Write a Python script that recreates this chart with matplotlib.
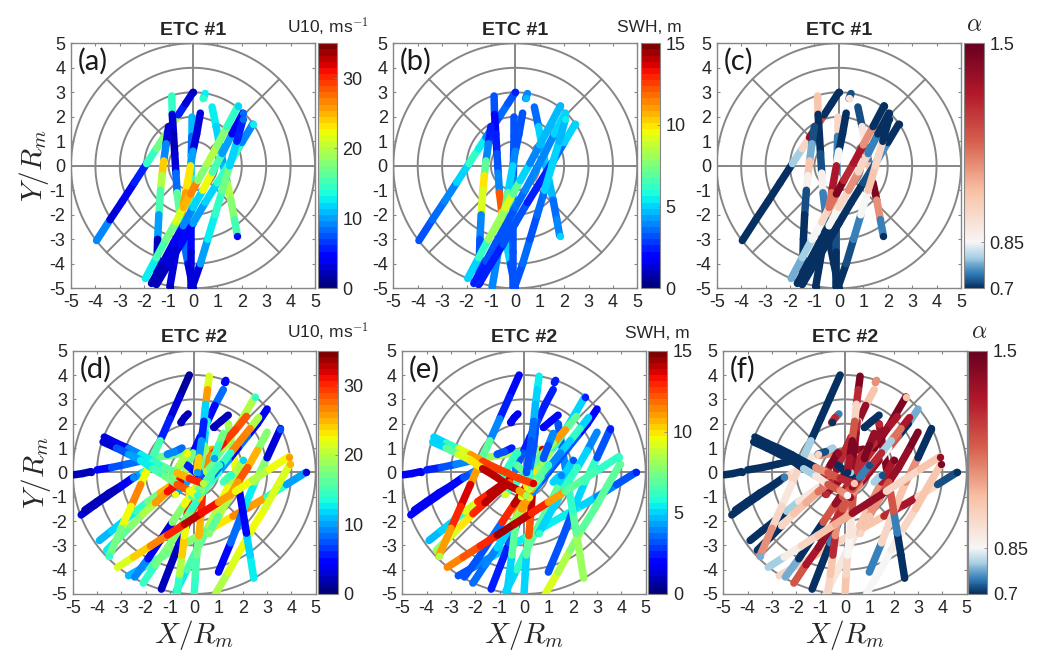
import numpy as np
import matplotlib
matplotlib.use('Agg')
import matplotlib.pyplot as plt
from matplotlib.collections import LineCollection
from matplotlib.colors import LinearSegmentedColormap, Normalize
from matplotlib.cm import ScalarMappable

plt.rcParams['font.family'] = ['Liberation Sans', 'DejaVu Sans']
plt.rcParams['mathtext.fontset'] = 'cm'
plt.rcParams['axes.unicode_minus'] = False

W, H = 1040, 653
GRAY = '#868686'
TXT = '#262626'

# ETC #1 tracks, values read along each track
etc1_x = [
    [-3.95, -3.4, -2.9, -2.4, -1.9, -1.5, -1.2, -0.9, -0.6, -0.3, 0],
    [-0.87, -0.85, -0.8, -0.75, -0.7, -0.65, -0.55, -0.4, -0.2, 0],
    [-1.0, -1.1, -1.2, -1.27, -1.33, -1.4, -1.45, -1.5],
    [-0.05, -0.05, -0.07, -0.08, -0.1, -0.1, -0.1, -0.1],
    [0.3, 0.15, 0, -0.1, -0.3, -0.5, -0.7, -0.95],
    [0.5, 0.42],
    [0.78, 0.95, 1.1, 1.25, 1.4, 1.55, 1.7, 1.82],
    [-1.7, -1.2, -0.8, -0.4, 0, 0.4, 0.8, 1.2, 1.6, 2.05],
    [-1.5, -1.0, -0.5, 0, 0.5, 1, 1.5, 2, 2.45],
    [-0.05, 0.3, 0.6, 0.9, 1.2, 1.5, 1.8, 2.05],
    [-1.95, -1.5, -1.1, -0.7, -0.4, -0.1, 0.2, 0.6, 1.0, 1.4, 1.85],
]
etc1_y = [
    [-3.05, -2.2, -1.45, -0.68, 0.09, 0.7, 1.16, 1.62, 2.08, 2.54, 3.0],
    [2.85, 2.1, 1.3, 0.5, -0.3, -1.1, -1.9, -3.0, -4, -5],
    [1.6, 0.9, 0.2, -0.4, -1, -2, -3, -4.8],
    [2, 1.2, 0.4, -0.5, -1.5, -2.5, -3.5, -5],
    [2.15, 1.3, 0.6, 0, -1.1, -2.2, -3.5, -4.95],
    [2.95, 2.75],
    [2.4, 1.6, 0.8, 0, -0.7, -1.4, -2.2, -2.85],
    [-4.8, -3.9, -3.15, -2.45, -1.7, -1, -0.25, 0.5, 1.3, 2.15],
    [-4.85, -4.0, -3.2, -2.35, -1.5, -0.7, 0.1, 0.95, 1.7],
    [-5, -4, -3, -2, -1, 0, 1, 1.9],
    [-4.6, -3.75, -3, -2.3, -1.7, -1.15, -0.6, 0.1, 0.85, 1.6, 2.45],
]
etc1_u10 = [
    [9, 3, 4, 6, 14, 17, 18, 20, 6, 3, 2],
    [14, 3, 2, 3, 8, 16, 18, 8, 3, 2],
    [3, 9, 24, 20, 15, 10, 2, 1.5],
    [11, 8, 12, 14, 16, 5, 3, 2],
    [3, 3, 10, 23, 26, 14, 3, 2],
    [13, 14],
    [13, 12, 10, 11, 20, 18, 15, 5],
    [2, 3, 4, 9, 12, 22, 15, 10, 4, 8],
    [2, 3, 5, 10, 12, 14, 14, 9, 13],
    [3, 10, 13, 14, 17, 12, 6, 8],
    [13, 15, 17, 21, 25, 27, 18, 20, 18, 14, 12],
]
etc1_swh = [
    [3, 3.5, 4, 5, 6, 5.5, 4, 3, 3.5, 3, 2.5],
    [3, 2, 2.5, 3, 4, 12, 10, 5, 3, 3],
    [2.5, 4, 7, 10, 9, 4, 3, 2.5],
    [3, 3, 3, 4, 5, 3, 3, 3],
    [3, 3, 4, 5, 7, 8, 4, 4],
    [4, 4.5],
    [3.5, 5, 5, 4.5, 4.5, 3.5, 4, 5],
    [2.5, 3, 3, 3, 3.5, 4, 4, 4, 5, 5],
    [2.5, 2.5, 3, 3, 2.5, 2.5, 3.5, 5, 5],
    [3, 3.5, 3, 3.5, 5, 5, 4.5, 5.5],
    [5, 6, 8, 8, 9, 7, 5, 4, 4.5, 4.5, 4.5],
]
etc1_alpha = [
    [0.7, 0.7, 0.7, 0.7, 0.8, 0.95, 1.4, 1.2, 0.7, 0.7, 0.7],
    [1.0, 0.7, 0.7, 0.72, 0.87, 0.75, 0.72, 0.7, 0.7, 0.7],
    [0.72, 0.78, 1.0, 0.87, 0.72, 0.7, 0.7, 0.7],
    [0.95, 0.75, 0.75, 0.9, 1.0, 0.72, 0.7, 0.7],
    [0.7, 0.7, 0.85, 1.35, 1.15, 0.72, 0.7, 0.7],
    [0.72, 0.9],
    [0.72, 0.9, 0.75, 1.0, 1.45, 1.1, 0.75, 0.7],
    [0.7, 0.7, 0.7, 0.85, 0.95, 1.1, 0.95, 0.75, 0.7, 0.7],
    [0.7, 0.7, 0.7, 0.7, 0.7, 0.72, 0.76, 0.7, 0.7],
    [0.7, 0.72, 0.75, 0.85, 1.0, 0.95, 0.7, 0.7],
    [0.78, 0.8, 0.85, 0.95, 1.15, 1.45, 1.3, 1.35, 1.1, 0.7, 0.7],
]

# ETC #2 tracks
etc2_x = [
    [-4.95, -4.6, -4.25],
    [-4, -3.4, -2.8, -2.2, -1.6, -1, -0.4, 0.2, 0.75],
    [-4.65, -4.1, -3.6, -3.1, -2.6, -2.1, -1.6],
    [-4.5, -4, -3.5, -3, -2.5],
    [-3.9, -3.4, -2.9, -2.4, -1.9, -1.4, -0.9, -0.4],
    [-2.7, -2, -1.3, -0.6, 0.1, 0.8, 1.6, 2.4, 3.0, 3.8, 4.6],
    [0.9, 1.4, 1.9, 2.4, 2.9, 3.4, 3.95],
    [1, 1.5, 2, 2.5, 3, 3.55],
    [2.45, 2.3, 2.15, 2, 1.85, 1.7, 1.55, 1.4],
    [-0.75, -0.3, 0.1, 0.6, 1, 1.5, 2],
    [-1.35, -1, -0.6, -0.2, 0.1],
    [-0.7, -0.6, -0.5, -0.4, -0.3, -0.2],
    [0, 0.05, 0.1, 0.2, 0.28, 0.35],
    [-2.1, -1.6, -1.1, -0.6, -0.1, 0.4, 1],
    [-2.45, -1.9, -1.4, -0.9, -0.4, 0.1, 0.6, 1.2, 1.8, 2.5],
    [1.3, 1.25],
    [-0.25, -0.4, -0.55],
    [1.2, 0.85, 0.55, 0.25, -0.05, -0.35],
    [1.4, 1.1, 0.8],
    [3, 2.6, 2.2, 1.8, 1.4, 1, 0.6, 0.2],
    [2.65, 2.3, 1.9, 1.5, 1.1, 0.7, 0.3],
    [3, 2.6, 2.2, 1.8, 1.4, 1, 0.6],
    [2.15, 1.7, 1.2, 0.7, 0.2, -0.3, -0.8],
    [-0.5, -0.8, -1.1],
    [-0.3, 0, 0.3],
    [-0.1, 0.3, 0.6, 1.0],
    [1.2, 1.5],
    [0.5, 0.45, 0.4, 0.3, 0.2],
    [1.2, 1.0, 0.8],
    [-0.9, -0.6, -0.3],
    [0.62, 0.55, 0.47, 0.4, 0.3, 0.2, 0.1],
    [-3.6, -3.1, -2.6, -2.1, -1.6, -1.1, -0.6],
    [-0.2, -0.6, -1, -1.4, -1.8, -2.2, -2.6, -3, -3.5],
    [-3.7, -3.2, -2.7, -2.2, -1.7, -1.2, -0.7, -0.2, 0.35],
    [-3.75, -3.2, -2.7, -2.2, -1.7, -1.2, -0.7, -0.2, 0.1],
    [-3.15, -2.5, -1.8, -1.1, -0.4, 0.3, 1, 1.7, 2.4, 3.1, 3.9],
]
etc2_y = [
    [-0.1, -0.05, 0.03],
    [0.1, 0.2, 0.33, 0.47, 0.6, 0.7, 0.8, 0.88, 0.95],
    [-1.75, -1.35, -1, -0.65, -0.3, 0, 0.3],
    [-1.55, -1.2, -0.85, -0.55, -0.2],
    [-2.8, -2.4, -2, -1.6, -1.2, -0.85, -0.5, -0.15],
    [-4.25, -3.85, -3.45, -3.05, -2.65, -2.25, -1.8, -1.35, -1, -0.5, 0],
    [-4.95, -4.1, -3.2, -2.3, -1.5, -0.6, 0.35],
    [-4.1, -2.9, -1.6, -0.4, 0.6, 1.8],
    [-4.35, -3.4, -2.5, -1.6, -0.7, 0.2, 1.1, 2],
    [-4.9, -4, -3.2, -2.2, -1.4, -0.4, 0.5],
    [-4.8, -3.9, -2.9, -1.9, -1.2],
    [-4.95, -4.2, -3.4, -2.6, -1.8, -1],
    [-5, -4.2, -3.4, -2.6, -1.7, -0.7],
    [-4.55, -3.8, -3.1, -2.3, -1.5, -0.7, 0.2],
    [-4.3, -3.55, -2.8, -2.05, -1.3, -0.55, 0.2, 1, 1.9, 3.1],
    [3.78, 3.7],
    [2.4, 2.25, 2.05],
    [3.4, 2.75, 2.1, 1.45, 0.8, 0.15],
    [2.35, 2.1, 1.85],
    [2.6, 2, 1.5, 1, 0.5, 0, -0.5, -1],
    [2.25, 1.8, 1.3, 0.8, 0.3, -0.2, -0.7],
    [1.65, 0.9, 0.2, -0.4, -1.1, -1.8, -2.5],
    [2.3, 1.75, 1.2, 0.7, 0.15, -0.4, -0.9],
    [1.0, 0.85, 0.75],
    [0.3, 0.05, -0.2],
    [-1.0, -0.6, -0.2, 0.3],
    [-0.4, -0.1],
    [2.1, 1.6, 1.1, 0.5, 0],
    [1.6, 1.1, 0.6],
    [-0.2, 0.3, 0.8],
    [3.95, 3.4, 2.8, 2.1, 1.3, 0.6, 0],
    [-3.2, -2.7, -2.2, -1.7, -1.25, -0.8, -0.4],
    [4, 3.1, 2.2, 1.3, 0.4, -0.5, -1.4, -2.3, -3.45],
    [1.45, 1.2, 0.98, 0.73, 0.45, 0.2, -0.02, -0.25, -0.45],
    [1.25, 1, 0.75, 0.5, 0.15, -0.15, -0.5, -0.75, -0.95],
    [-3.9, -3.48, -3.03, -2.58, -2.13, -1.68, -1.23, -0.78, -0.32, 0.13, 0.65],
]
etc2_u10 = [
    [2, 2, 2],
    [5, 7, 8, 14, 17, 17, 16, 20, 26],
    [3, 2, 2, 5, 10, 14, 16],
    [2, 2, 2, 4, 9],
    [11, 12, 13, 14, 17, 25, 30, 28],
    [11, 15, 17, 18, 19, 23, 27, 26, 14, 10, 3],
    [20, 21, 22, 22, 21, 21, 25],
    [5, 8, 13, 18, 3, 7],
    [13, 12, 5, 4, 24, 22, 18, 20],
    [13, 15, 16, 20, 22, 20, 12],
    [2, 2, 5, 28, 30],
    [14, 20, 24, 22, 31, 31],
    [14, 15, 17, 25, 30, 32],
    [14, 17, 18, 17, 14, 24, 15],
    [9, 4, 3, 18, 22, 20, 17, 20, 20, 14],
    [5, 5],
    [2, 2, 2],
    [8, 5, 12, 5, 17, 20],
    [2, 2, 2],
    [4, 4, 8, 5, 10, 14, 16, 24],
    [20, 27, 27, 14, 8, 14, 20],
    [18, 25, 28, 26, 20, 16, 18],
    [28, 29, 31, 27, 17, 10, 22],
    [8, 9, 9],
    [6, 5, 7],
    [16, 17, 15, 14],
    [15, 14],
    [14, 12, 18, 16, 8],
    [17, 14, 10],
    [18, 20, 22],
    [21, 26, 12, 6, 10, 24, 10],
    [13, 16, 18, 20, 26, 31, 32],
    [1.5, 3, 6, 15, 22, 27, 22, 17, 14],
    [3, 5, 9, 13, 14, 16, 25, 30, 20],
    [3, 7, 10, 13, 15, 17, 28, 22, 14],
    [21, 24, 27, 30, 33, 31, 26, 22, 20, 22, 26],
]
etc2_swh = [
    [1.5, 1.5, 1.5],
    [2.5, 3, 4, 7, 8, 8.5, 8, 8, 13.5],
    [2, 2, 1.5, 1.5, 3, 4, 9],
    [1.5, 1.5, 1.5, 2, 3],
    [4.5, 5, 6, 9, 13, 14, 14.5, 13.5],
    [3, 4, 5, 5.5, 6, 5.5, 5.5, 5, 4, 3, 2.5],
    [9, 8.5, 7.5, 7, 7, 7, 7],
    [3, 3, 5, 6, 3, 2.5],
    [8, 8, 7, 6, 5, 4, 3, 3],
    [5, 6, 7, 7, 7, 5, 3],
    [2.5, 2.5, 3, 11, 12],
    [5, 5, 7, 7, 11, 12],
    [5, 5, 7, 12, 14, 13.5],
    [3.5, 4, 5, 8, 11, 12, 7],
    [3, 3, 3.5, 13, 14, 10, 8, 6, 5, 2.5],
    [2.5, 2.5],
    [1.5, 1.5, 2],
    [2.5, 2.5, 3, 2.5, 3, 4],
    [2, 2, 2],
    [2, 2, 3, 3, 3, 3, 4, 10],
    [5, 6, 5, 4, 4, 6, 11],
    [4, 5, 6, 6, 5, 5, 6],
    [7, 11, 8, 7, 6, 6, 9],
    [2.5, 3, 3],
    [7, 7, 6],
    [9, 8, 7, 6],
    [5, 4],
    [3, 3, 3, 3.5, 6],
    [4, 3, 3],
    [6, 6, 6],
    [5.5, 5, 4.5, 3.5, 3, 3, 3],
    [8, 9, 10, 13, 14, 14, 12],
    [2, 2.5, 4, 7, 11, 13.5, 13, 11, 8.5],
    [5, 6, 9, 11, 12.5, 12.5, 12.5, 12.5, 13.5],
    [5, 7, 9, 10, 14, 14, 14, 11, 8],
    [11.5, 12, 13, 14.5, 14, 13, 11, 7, 6.5, 6, 6],
]
etc2_alpha = [
    [0.7, 0.7, 0.7],
    [0.7, 0.7, 0.7, 0.72, 0.9, 1.1, 1.2, 1.4, 1.45],
    [0.7, 0.7, 0.7, 0.72, 0.95, 0.9, 1.0],
    [0.7, 0.7, 0.7, 0.7, 0.75],
    [0.7, 0.7, 0.7, 0.8, 0.9, 0.9, 1.2, 1.3],
    [0.95, 0.95, 1, 0.95, 0.95, 1, 1.3, 1.35, 0.95, 0.72, 0.7],
    [0.85, 0.85, 0.88, 0.95, 1, 1.0, 1.45],
    [0.75, 0.95, 1, 1.1, 0.7, 0.7],
    [0.7, 0.7, 0.75, 1.2, 1.4, 1.45, 1.4, 1.3],
    [0.9, 0.9, 0.9, 1, 1.1, 1.35, 1.45],
    [0.7, 0.7, 0.75, 1.1, 1.45],
    [0.95, 1.0, 1.3, 1.1, 1.2, 0.95],
    [1, 0.95, 0.85, 0.9, 1.2, 1.4],
    [1.2, 1.35, 1.4, 1.3, 1.2, 1.4, 1.3],
    [0.78, 0.7, 0.7, 1.2, 1.4, 1.3, 1.3, 1.45, 1.45, 1.0],
    [1.1, 1.1],
    [0.75, 1.3, 0.7],
    [1.0, 1.4, 0.9, 1.3, 1.3, 1.4],
    [0.7, 0.7, 0.7],
    [0.78, 0.7, 1.2, 0.85, 1.4, 1.4, 1.1, 1.4],
    [1.35, 1.15, 0.8, 1.3, 1.3, 1.2, 1.2],
    [1.45, 1.4, 1.4, 1.2, 1.1, 1, 0.95],
    [1.35, 1.4, 1.3, 1.3, 1.45, 1.4, 1.3],
    [0.8, 0.72, 0.95],
    [0.7, 0.7, 0.7],
    [1.2, 1.4, 0.75, 0.72],
    [0.8, 0.72],
    [1.3, 1.4, 1.45, 1.4, 0.8],
    [1.4, 1.45, 1.45],
    [1.3, 1.45, 1.4],
    [1.45, 1.3, 0.95, 1.2, 1.45, 1.35, 0.7],
    [0.7, 0.7, 0.95, 1.0, 1.05, 1.15, 1.3],
    [0.7, 0.7, 0.7, 0.8, 0.95, 0.9, 0.95, 1.1, 0.78],
    [0.7, 0.7, 0.7, 0.7, 0.7, 1.1, 1.2, 1.3, 1.0],
    [0.7, 0.7, 0.7, 0.7, 0.8, 0.9, 1.2, 1.1, 0.85],
    [0.8, 0.88, 0.95, 1.0, 1.05, 1.4, 1.4, 0.95, 0.95, 1.0, 1.4],
]

axis_ticks = [-5, -4, -3, -2, -1, 0, 1, 2, 3, 4, 5]
ring_radii = [1, 2, 3, 4, 5]
u10_ticks = [0, 10, 20, 30]
swh_ticks = [0, 5, 10, 15]
alpha_ticks = [0.7, 0.85, 1.5]

rd = plt.get_cmap('RdBu_r')
alpha_cmap = LinearSegmentedColormap.from_list('alpha', [
    (0, rd(0.0)), (0.06, rd(0.15)), (0.125, rd(0.33)), (0.1875, rd(0.5)),
    (0.4, rd(0.65)), (0.6, rd(0.8)), (0.8, rd(0.9)), (1, rd(1.0))])
jet = plt.get_cmap('jet', 40)


def px_axes(fig, l, t, r, b):
    return fig.add_axes([l / W, 1 - b / H, (r - l) / W, (b - t) / H])


def draw_grid(ax):
    th = np.linspace(0, 2 * np.pi, 361)
    for r in ring_radii:
        ax.plot(r * np.cos(th), r * np.sin(th), color=GRAY, lw=1.4, zorder=1)
    ax.plot([-5, 5], [0, 0], color=GRAY, lw=1.4, zorder=1)
    ax.plot([0, 0], [-5, 5], color=GRAY, lw=1.4, zorder=1)
    for a in np.deg2rad([45, 135, 225, 315]):
        ax.plot([np.cos(a), 5 * np.cos(a)], [np.sin(a), 5 * np.sin(a)], color=GRAY, lw=1.4, zorder=1)


def draw_tracks(ax, xs, ys, vals, cmap, norm):
    for x, y, v in zip(xs, ys, vals):
        pts = np.column_stack([x, y])
        segs = np.stack([pts[:-1], pts[1:]], axis=1)
        lc = LineCollection(segs, array=np.array(v[:-1], dtype=float), cmap=cmap, norm=norm,
                            linewidths=5.4, capstyle='round', zorder=3)
        ax.add_collection(lc)
        ax.scatter(x[-1], y[-1], c=[v[-1]], cmap=cmap, norm=norm, s=28, linewidths=0, zorder=3)


def panel(fig, box, cbox, tag, title, xs, ys, vals, cmap, vmax_ticks, vmin, vmax, unit, unit_xy,
          ylab=False, xlab=False):
    ax = px_axes(fig, *box)
    draw_grid(ax)
    norm = Normalize(vmin, vmax)
    draw_tracks(ax, xs, ys, vals, cmap, norm)
    ax.set_xlim(-5, 5)
    ax.set_ylim(-5, 5)
    ax.set_xticks(axis_ticks)
    ax.set_yticks(axis_ticks)
    ax.tick_params(direction='in', length=2.5, width=0.8, color=GRAY, labelcolor=TXT,
                   labelsize=13, top=True, right=True, pad=4)
    for s in ax.spines.values():
        s.set_color(GRAY)
        s.set_linewidth(1.0)
    ax.text(-4.72, 4.25, tag, fontsize=21, family='Lato', color='#1a1a1a', va='center', ha='left', zorder=5)
    ax.set_title(title, fontsize=14, fontweight='bold', color=TXT, pad=6)
    if ylab:
        ax.set_ylabel('$Y/R_m$', fontsize=21, color=TXT, labelpad=-1)
    if xlab:
        ax.set_xlabel('$X/R_m$', fontsize=21, color=TXT, labelpad=1)
    cax = px_axes(fig, *cbox)
    cb = fig.colorbar(ScalarMappable(norm=norm, cmap=cmap), cax=cax, ticks=vmax_ticks)
    cb.ax.set_yticklabels([f'{t:g}' for t in vmax_ticks])
    cb.ax.tick_params(direction='in', length=2, width=0.6, color=GRAY, labelcolor=TXT, labelsize=13, pad=4)
    cb.outline.set_edgecolor(GRAY)
    cb.outline.set_linewidth(0.8)
    size = 17 if unit == r'$\alpha$' else 12.5
    fig.text(unit_xy[0] / W, 1 - unit_xy[1] / H, unit, fontsize=size, color=TXT, ha='left', va='center')


fig = plt.figure(figsize=(W / 100, H / 100), dpi=100)

panel(fig, (71, 43.3, 315, 288.3), (317.5, 43.3, 337, 288.3), '(a)', 'ETC #1',
      etc1_x, etc1_y, etc1_u10, jet, u10_ticks, 0, 35, 'U10, ms$^{-1}$', (287, 27), ylab=True)
panel(fig, (393.3, 43.3, 637.3, 288.3), (640.7, 43.3, 660, 288.3), '(b)', 'ETC #1',
      etc1_x, etc1_y, etc1_swh, jet, swh_ticks, 0, 15, 'SWH, m', (617, 28))
panel(fig, (716.7, 43.3, 961, 288.3), (963.7, 43.3, 984, 288.3), '(c)', 'ETC #1',
      etc1_x, etc1_y, etc1_alpha, alpha_cmap, alpha_ticks, 0.7, 1.5, r'$\alpha$', (966, 25))
panel(fig, (72.7, 350.7, 315.7, 594), (317.7, 350.7, 337.7, 594), '(d)', 'ETC #2',
      etc2_x, etc2_y, etc2_u10, jet, u10_ticks, 0, 35, 'U10, ms$^{-1}$', (287, 332), ylab=True, xlab=True)
panel(fig, (402.3, 350.7, 645.7, 594), (647.7, 350.7, 667.3, 594), '(e)', 'ETC #2',
      etc2_x, etc2_y, etc2_swh, jet, swh_ticks, 0, 15, 'SWH, m', (625, 334), xlab=True)
panel(fig, (723.3, 350.7, 966.7, 594), (968, 350.7, 987.3, 594), '(f)', 'ETC #2',
      etc2_x, etc2_y, etc2_alpha, alpha_cmap, alpha_ticks, 0.7, 1.5, r'$\alpha$', (971, 332), xlab=True)

fig.savefig('out.png', dpi=100)
